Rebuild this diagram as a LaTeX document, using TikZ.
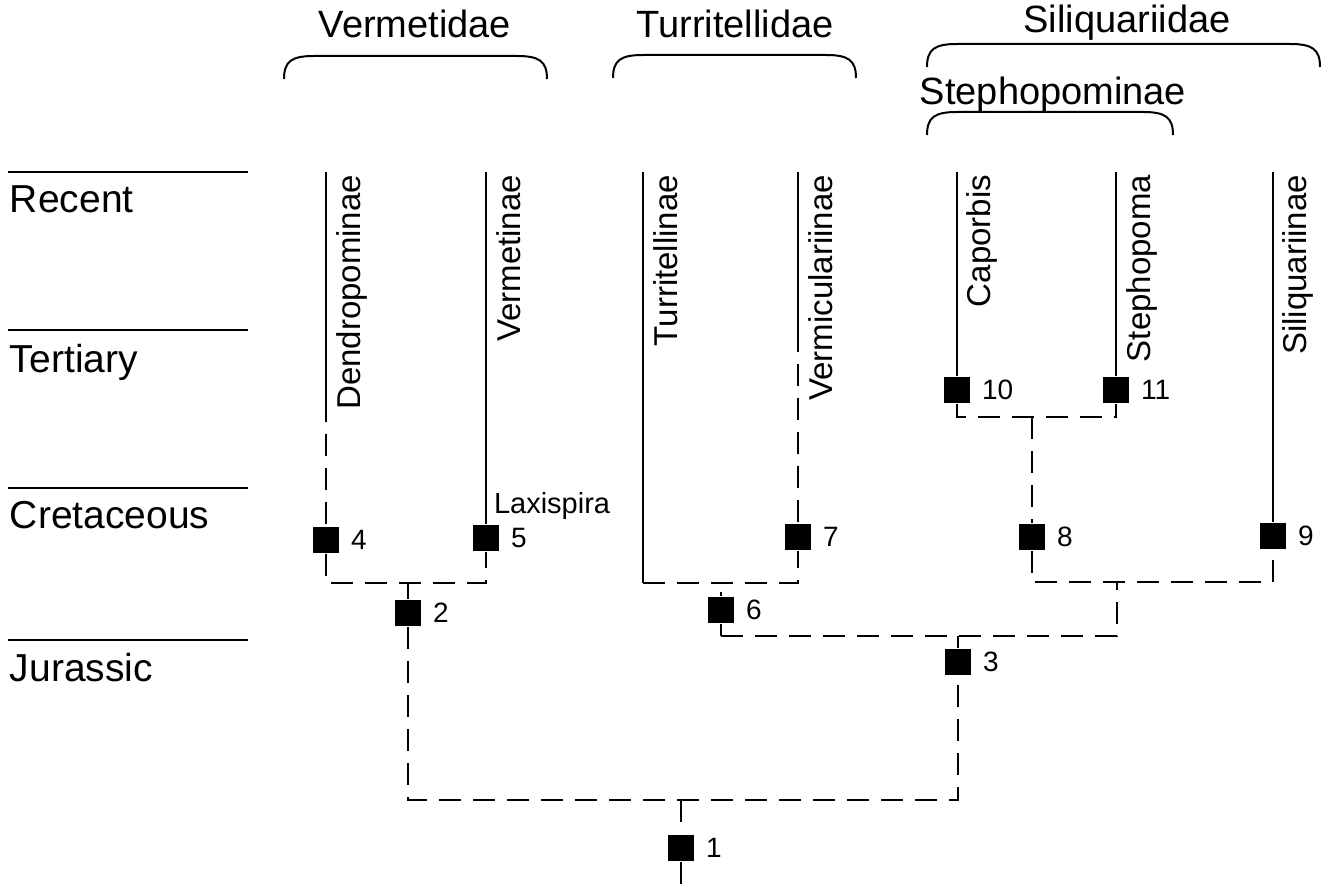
\documentclass[tikz,border=0pt]{standalone}
\usepackage{fontspec}
\setmainfont{Liberation Sans}
\usetikzlibrary{positioning}
\tikzset{
    sq/.style={fill=black, minimum size=13pt, inner sep=0pt},
    num/.style={inner sep=0pt, font=\fontsize{14}{16}\selectfont},
    taxon/.style={rotate=90, anchor=north east, inner sep=0pt, font=\fontsize{16.5}{18}\selectfont},
    genus/.style={inner sep=0pt, anchor=base west, font=\fontsize{14.5}{16}\selectfont},
    big/.style={inner sep=0pt, font=\fontsize{19.5}{22}\selectfont},
    family/.style={inner sep=0pt, anchor=base, font=\fontsize{19}{22}\selectfont},
    dline/.style={dash pattern=on 11pt off 6pt},
}
\newcommand{\clade}[3]{\draw (#1,#3+23) .. controls (#1,#3+5) and (#1+8,#3) .. (#1+30,#3) -- (#2-30,#3) .. controls (#2-8,#3) and (#2,#3+5) .. (#2,#3+23);}

\begin{document}
\begin{tikzpicture}[x=0.5pt, y=-0.5pt, line width=1pt]
            \useasboundingbox (0,0) rectangle (1332,893);

            % periods
            \foreach \y in {172,330,488,640} \draw (8,\y) -- (248,\y);
            \node[big, anchor=base west] (recent) at (9,213) {Recent};
            \node[big, anchor=base west] (tertiary) at (9,372) {Tertiary};
            \node[big, anchor=base west] (cretaceous) at (9,528) {Cretaceous};
            \node[big, anchor=base west] (jurassic) at (9,681) {Jurassic};

            % families
            \clade{284}{547}{56}
            \clade{613}{856}{55}
            \clade{927}{1320}{44}
            \clade{927}{1173}{112}
            \node[family] (vermetidae) at (415,38) {Vermetidae};
            \node[family] (turritellidae) at (735,38) {Turritellidae};
            \node[family] (siliquariidae) at (1127,33) {Siliquariidae};
            \node[family] (stephopominae) at (1053,105) {Stephopominae};

            % taxa
            \node[taxon] (dendro) at (336,174) {Dendropominae};
            \node[taxon] (vermet) at (496,174) {Vermetinae};
            \node[taxon] (turrit) at (653,174) {Turritellinae};
            \node[taxon] (vermic) at (808,174) {Vermiculariinae};
            \node[taxon] (caporbis) at (966,174) {Caporbis};
            \node[taxon] (stephopoma) at (1126,174) {Stephopoma};
            \node[taxon] (siliq) at (1282,174) {Siliquariinae};
            \node[genus] (laxispira) at (493,513) {Laxispira};

            % character nodes
            \node[sq] (n1) at (681,848) {};
            \node[sq] (n2) at (408,613) {};
            \node[sq] (n3) at (958,662) {};
            \node[sq] (n4) at (326,540) {};
            \node[sq] (n5) at (486,538) {};
            \node[sq] (n6) at (721,610) {};
            \node[sq] (n7) at (798,537) {};
            \node[sq] (n8) at (1032,537) {};
            \node[sq] (n9) at (1273,536) {};
            \node[sq] (n10) at (957,390) {};
            \node[sq] (n11) at (1116,390) {};
            \foreach \i in {1,...,11}
                \node[num, right=5pt of n\i] (t\i) {\i};

            \coordinate (dtop) at (326,172);
            \coordinate (dbrk) at (326,400);
            \coordinate (vtop) at (486,172);
            \coordinate (ttop) at (643,172);
            \coordinate (tbot) at (643,583);
            \coordinate (vctop) at (798,172);
            \coordinate (vcbrk) at (798,330);
            \coordinate (ctop) at (957,172);
            \coordinate (cbrk) at (957,355);
            \coordinate (stop) at (1116,172);
            \coordinate (sqtop) at (1273,172);
            \coordinate (j45l) at (326,583);
            \coordinate (j45r) at (486,583);
            \coordinate (j45) at (408,583);
            \coordinate (j67r) at (798,583);
            \coordinate (j6) at (721,592);
            \coordinate (j1011l) at (957,417);
            \coordinate (j1011r) at (1116,417);
            \coordinate (j1011) at (1032,417);
            \coordinate (j89l) at (1032,582);
            \coordinate (j89r) at (1273,582);
            \coordinate (j89) at (1117,582);
            \coordinate (j63l) at (721,636);
            \coordinate (j63r) at (1117,636);
            \coordinate (j3) at (958,636);
            \coordinate (j23l) at (408,800);
            \coordinate (j23r) at (958,800);
            \coordinate (j1) at (681,800);
            \coordinate (root) at (681,893);

            % branches
            \draw (dtop) -- (dbrk);
            \draw[dline] (dbrk) -- (n4);
            \draw[dline] (n4) -- (j45l) -- (j45r) -- (n5);
            \draw (vtop) -- (n5);
            \draw (j45) -- (n2);
            \draw[dline] (n2) -- (j23l) -- (j23r) -- (n3);
            \draw[dline] (j1) -- (n1);
            \draw[dline] (n1) -- (root);
            \draw (ttop) -- (tbot);
            \draw[dline] (tbot) -- (j67r) -- (n7);
            \draw (vctop) -- (vcbrk);
            \draw[dline] (vcbrk) -- (n7);
            \draw (j6) -- (n6);
            \draw (n6) -- (j63l);
            \draw[dline] (j63l) -- (j63r) -- (j89);
            \draw (j3) -- (n3);
            \draw (ctop) -- (cbrk);
            \draw[dline] (cbrk) -- (n10);
            \draw[dline] (n10) -- (j1011l) -- (j1011r) -- (n11);
            \draw (stop) -- (n11);
            \draw[dline] (j1011) -- (n8);
            \draw[dline] (n8) -- (j89l) -- (j89r) -- (n9);
            \draw (sqtop) -- (n9);
\end{tikzpicture}
\end{document}
